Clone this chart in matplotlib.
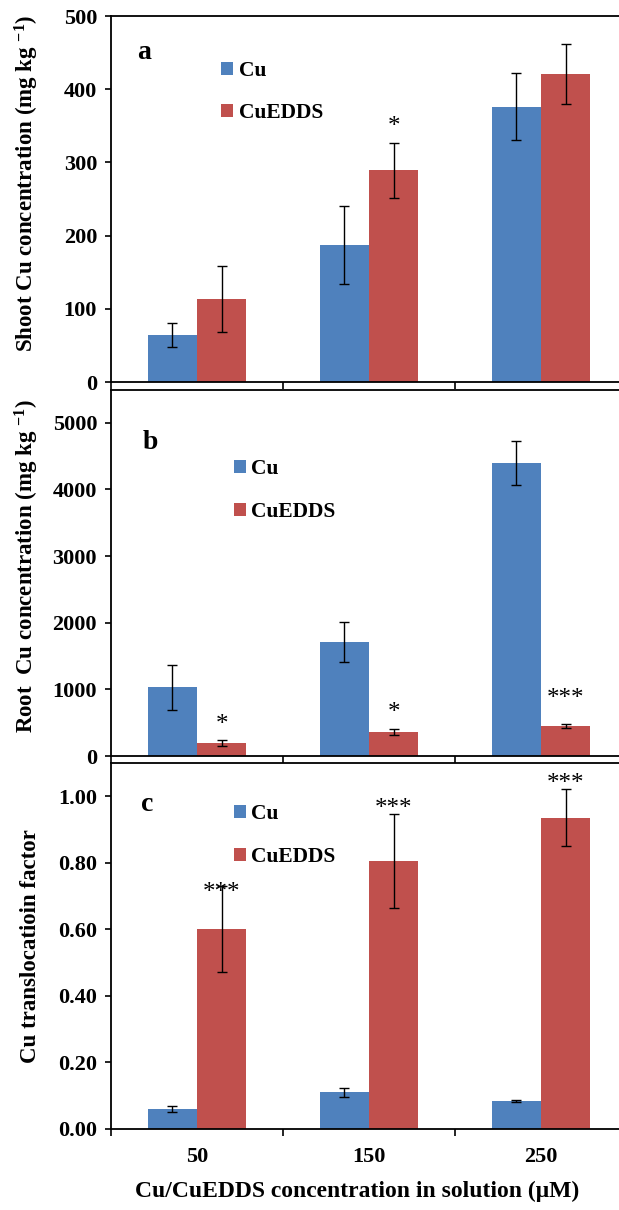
import matplotlib
matplotlib.use("Agg")
import matplotlib.pyplot as plt
import numpy as np

plt.rcParams["font.family"] = ["Liberation Serif", "DejaVu Serif"]
plt.rcParams["font.weight"] = "bold"
plt.rcParams["mathtext.fontset"] = "custom"
plt.rcParams["mathtext.rm"] = "Liberation Serif:bold"
plt.rcParams["mathtext.bf"] = "Liberation Serif:bold"
plt.rcParams["mathtext.it"] = "Liberation Serif:bold"

# Data
concentrations = ["50", "150", "250"]
series = ["Cu", "CuEDDS"]

shoot_cu = [64, 187, 376]
shoot_cu_err = [16, 53, 46]
shoot_edds = [113, 289, 421]
shoot_edds_err = [45, 37, 41]

root_cu = [1030, 1705, 4395]
root_cu_err = [335, 300, 335]
root_edds = [195, 360, 450]
root_edds_err = [40, 38, 32]

tf_cu = [0.060, 0.110, 0.084]
tf_cu_err = [0.008, 0.013, 0.004]
tf_edds = [0.600, 0.804, 0.935]
tf_edds_err = [0.130, 0.141, 0.085]

# significance marks over the CuEDDS bars
shoot_sig = ["", "*", ""]
root_sig = ["*", "*", "***"]
tf_sig = ["***", "***", "***"]

blue = "#4F81BD"
red = "#C0504D"

W, H = 619, 1210
fig = plt.figure(figsize=(W / 100, H / 100), dpi=100)


def ax_rect(top_px, bottom_px, left_px=111, right_px=627):
    return [left_px / W, 1 - bottom_px / H, (right_px - left_px) / W, (bottom_px - top_px) / H]


TICK_FS = 16
LABEL_FS = 16.5
LEG_FS = 15.5
LETTER_FS = 20
STAR_FS = 18

panels = [
    dict(rect=ax_rect(16, 382), cu=shoot_cu, cu_e=shoot_cu_err, ed=shoot_edds, ed_e=shoot_edds_err,
         sig=shoot_sig, ylim=500, step=100, fmt="{:.0f}", letter="a",
         ylabel="Shoot Cu concentration (mg kg $^{-1}$)", ylabel_y=0.542, letter_xy=(0.05, 0.90),
         leg_xy=(0.214, 0.878), sig_off=[4, 4, 4]),
    dict(rect=ax_rect(389.5, 756), cu=root_cu, cu_e=root_cu_err, ed=root_edds, ed_e=root_edds_err,
         sig=root_sig, ylim=5500, step=1000, fmt="{:.0f}", letter="b",
         ylabel="Root  Cu concentration (mg kg $^{-1}$)", ylabel_y=0.518, letter_xy=(0.062, 0.855),
         leg_xy=(0.238, 0.81), sig_off=[3, 4, 10]),
    dict(rect=ax_rect(762.7, 1129), cu=tf_cu, cu_e=tf_cu_err, ed=tf_edds, ed_e=tf_edds_err,
         sig=tf_sig, ylim=1.1, step=0.2, fmt="{:.2f}", letter="c",
         ylabel="Cu translocatioin factor", ylabel_y=0.5, letter_xy=(0.059, 0.885),
         leg_xy=(0.238, 0.887), sig_off=[-13, -4, -4]),
]

x = np.arange(len(concentrations))
bw = 0.286

axes = []
for p in panels:
    ax = fig.add_axes(p["rect"])
    axes.append(ax)
    ekw = dict(ecolor="black", elinewidth=1.0, capsize=3.6, capthick=1.0)
    ax.bar(x - bw / 2, p["cu"], bw, yerr=p["cu_e"], color=blue, label=series[0],
           error_kw=ekw, zorder=2)
    ax.bar(x + bw / 2, p["ed"], bw, yerr=p["ed_e"], color=red, label=series[1],
           error_kw=ekw, zorder=2)
    for i, s in enumerate(p["sig"]):
        if s:
            ax.annotate(s, (x[i] + bw / 2, p["ed"][i] + p["ed_e"][i]),
                        xytext=(0, p["sig_off"][i]), textcoords="offset points",
                        ha="center", va="bottom", fontsize=STAR_FS, fontweight="normal")
    ax.set_xlim(-0.5, 2.5)
    ax.set_ylim(0, p["ylim"])
    ticks = np.arange(0, p["ylim"] + 1e-9, p["step"])
    ax.set_yticks(ticks)
    ax.set_yticklabels([p["fmt"].format(t) for t in ticks])
    ax.set_xticks([-0.5, 0.5, 1.5, 2.5])
    ax.set_xticklabels([])
    ax.tick_params(axis="x", which="major", direction="out", length=5, width=1.2)
    ax.set_xticks(x, minor=True)
    ax.tick_params(axis="x", which="minor", length=0)
    ax.tick_params(axis="y", direction="out", length=4.5, width=1.2, labelsize=TICK_FS, pad=5.5)
    for t in ax.get_yticklabels():
        t.set_fontweight("bold")
    for sp in ax.spines.values():
        sp.set_linewidth(1.3)
    ax.set_ylabel(p["ylabel"], fontsize=LABEL_FS, fontweight="bold")
    ax.yaxis.set_label_coords(-0.136, p["ylabel_y"])
    ax.text(*p["letter_xy"], p["letter"], transform=ax.transAxes, fontsize=LETTER_FS,
            fontweight="bold", ha="left", va="center")
    ax.legend(loc="upper left", bbox_to_anchor=p["leg_xy"], frameon=False,
              prop=dict(weight="bold", size=LEG_FS),
              handlelength=0.55, handleheight=0.55, handletextpad=0.25,
              labelspacing=1.05, borderaxespad=0, borderpad=0)

last = axes[-1]
last.set_xticks(x, minor=True)
last.set_xticklabels(concentrations, minor=True, fontsize=TICK_FS, fontweight="bold")
last.tick_params(axis="x", which="minor", length=0, pad=13)
last.set_xlabel("Cu/CuEDDS concentration in solution (\u03bcM)", fontsize=17,
                fontweight="bold")
last.xaxis.set_label_coords(0.477, -0.142)

fig.savefig("out.png", dpi=100)
